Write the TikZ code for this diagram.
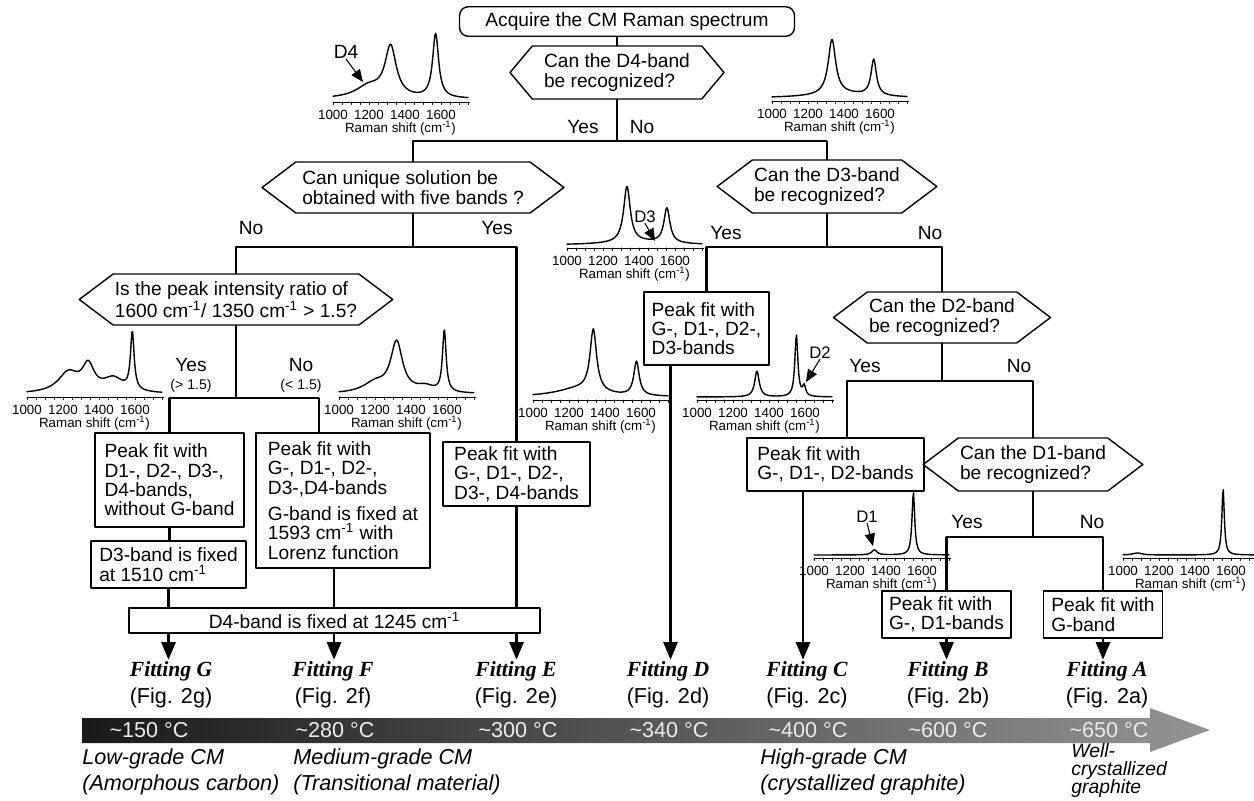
\documentclass[tikz,border=0pt]{standalone}
\usepackage{fontspec}
\setmainfont{Liberation Sans}
\newfontfamily\timesfont{Liberation Serif}
\usetikzlibrary{arrows,shapes.symbols,calc}

\pgfmathdeclarefunction{lor}{4}{\pgfmathparse{#2/(1+((#1-#3)/#4)^2)}}
\newcommand\mainsize{\fontsize{10.9}{11}\selectfont}
\newcommand\wellsize{\fontsize{11}{10.4}\selectfont\itshape}

\tikzset{
  query/.style={draw, line width=0.8pt, shape=signal, signal to=west and east, signal pointer angle=74, align=left, inner sep=1pt, font=\mainsize},
  fitbox/.style={draw, line width=0.8pt, rectangle, align=left, inner xsep=4pt, inner ysep=2pt, font=\mainsize},
  answer/.style={font=\mainsize, inner sep=1pt},
  ratio/.style={font=\fontsize{8}{9}\selectfont, inner sep=1pt},
  flow/.style={line width=1.3pt},
  pointer/.style={->, line width=0.6pt},
  bandlab/.style={font=\fontsize{9.5}{10}\selectfont, inner sep=0pt},
  specaxis/.style={line width=0.5pt},
  speccurve/.style={line width=0.8pt, line join=round},
  spectick/.style={font=\fontsize{7.6}{8}\selectfont, inner sep=0pt},
  result/.style={align=center, font=\fontsize{12.3}{15.5}\selectfont, inner sep=1pt},
  temp/.style={font=\fontsize{12.3}{14}\selectfont, text=white!92!black},
  grade/.style={align=left, font=\fontsize{12.3}{15.3}\selectfont\itshape, inner sep=0pt, anchor=north west}
}

\newcommand\ramanspec[2]{%
  \begin{scope}[shift={#1}, x=0.0036cm]
    \draw[specaxis] (0,0) -- (760,0);
    \foreach \tk in {0,50,...,750} \draw[specaxis] (\tk,0) -- (\tk,2.5);
    \foreach \tk in {1000,1200,1400,1600} \node[spectick] at (\tk-1000,13) {\tk};
    \node[spectick] at (375,26) {Raman shift (cm\textsuperscript{-1})};
    \draw[speccurve] plot[domain=1000:1750, samples=180] ({\x-1000}, {-3-(#2)});
  \end{scope}}

\begin{document}
\begin{tikzpicture}[line cap=round,line join=round,>=triangle 45,x=0.02cm,y=-0.02cm]
\useasboundingbox (0,0) rectangle (1254,801);

\node[draw, line width=0.8pt, rounded corners=5pt, minimum width=6.7cm, minimum height=0.54cm, font=\mainsize] (acq) at (627,21.5) {Acquire the CM Raman spectrum};
\node[query, signal pointer angle=100, minimum width=4.28cm, minimum height=1.06cm] (d4q) at (617,72.5) {Can the D4-band\\be recognized?};
\node[query, minimum width=6.04cm, minimum height=1.02cm] (uniq) at (413,187.5) {Can unique solution be\\obtained with five bands ?};
\node[query, minimum width=5.94cm, minimum height=1.02cm] (ratioq) at (236,299.5) {Is the peak intensity ratio of\\1600 cm\textsuperscript{-1}/ 1350 cm\textsuperscript{-1} > 1.5?};
\node[query, minimum width=4.28cm, minimum height=1.06cm] (d3q) at (827,186.5) {Can the D3-band\\be recognized?};
\node[query, minimum width=4.14cm, minimum height=1.02cm] (d2q) at (942,317.5) {Can the D2-band\\be recognized?};
\node[query, minimum width=4.1cm, minimum height=1.06cm] (d1q) at (1033,464.5) {Can the D1-band\\be recognized?};

\node[fitbox, minimum width=2.5cm, minimum height=1.46cm] (fitD) at (706.5,328.5) {Peak fit with\\G-, D1-, D2-,\\D3-bands};
\node[fitbox, minimum width=2.98cm, minimum height=1.88cm] (fitG) at (169.5,480) {Peak fit with\\D1-, D2-, D3-,\\D4-bands,\\without G-band};
\node[fitbox, minimum width=3.1cm, minimum height=0.94cm] (fix3) at (168.5,564.5) {D3-band is fixed\\at 1510 cm\textsuperscript{-1}};
\node[fitbox, minimum width=3.48cm, minimum height=2.7cm] (fitF) at (343,500.5) {Peak fit with\\G-, D1-, D2-,\\D3-,D4-bands\\[4pt]G-band is fixed at\\1593 cm\textsuperscript{-1} with\\Lorenz function};
\node[fitbox, minimum width=2.94cm, minimum height=1.28cm] (fitE) at (516.5,474) {Peak fit with\\G-, D1-, D2-,\\D3-, D4-bands};
\node[fitbox, minimum width=3.54cm, minimum height=1.06cm] (fitC) at (835.5,464.5) {Peak fit with\\G-, D1-, D2-bands};
\node[fitbox, minimum width=2.58cm, minimum height=0.94cm] (fitB) at (946.5,614.5) {Peak fit with\\G-, D1-bands};
\node[fitbox, minimum width=2.38cm, minimum height=0.94cm] (fitA) at (1103,614.5) {Peak fit with\\G-band};
\node[fitbox, align=center, minimum width=8.22cm, minimum height=0.5cm, inner ysep=0pt] (d4fix) at (334.5,620.5) {D4-band is fixed at 1245 cm\textsuperscript{-1}};

\coordinate (j1) at (617,141);
\coordinate (j2) at (413,247);
\coordinate (j3) at (236,398);
\coordinate (j4) at (827,247);
\coordinate (j5) at (942,381);
\coordinate (j6) at (1033,537);

\draw[flow] (acq.south -| d4q.north) -- (d4q.north);
\draw[flow] (d4q.south) -- (j1);
\draw[flow] (uniq.north) |- (j1) -| (d3q.north);
\draw[flow] (uniq.south) -- (j2);
\draw[flow] (ratioq.north) |- (j2) -| (fitE.north);
\draw[flow] (ratioq.south) -- (j3);
\draw[flow] (fitG.north) |- (j3) -| ($(fitF.north)+(-24,0)$);
\draw[flow] (fitG.south) -- (fitG.south |- fix3.north);
\draw[flow] (fix3.south) -- (fix3.south |- d4fix.north);
\draw[flow] ($(fitF.south)+(-9,0)$) coordinate (fFout) -- (fFout |- d4fix.north);
\draw[flow] (fitE.south) -- (fitE.south |- d4fix.north);
\draw[flow] (d3q.south) -- (j4);
\draw[flow] (fitD.north) |- (j4) -| (d2q.north);
\draw[flow] (d2q.south) -- (j5);
\draw[flow] ($(fitC.north)+(11.5,0)$) |- (j5) -| (d1q.north);
\draw[flow] (d1q.south) -- (j6);
\draw[flow] (fitB.north) |- (j6) -| (fitA.north);

\node[answer] (yes1) at (583,127) {Yes};
\node[answer] (no1) at (642,127) {No};
\node[answer] (no2) at (251,228) {No};
\node[answer] (yes2) at (497,228) {Yes};
\node[answer] (yes3) at (191,365) {Yes};
\node[ratio] (gt3) at (191,386) {(> 1.5)};
\node[answer] (no3) at (301,365) {No};
\node[ratio] (lt3) at (301,386) {(< 1.5)};
\node[answer] (yes4) at (726,233) {Yes};
\node[answer] (no4) at (930,233) {No};
\node[answer] (yes5) at (865,366) {Yes};
\node[answer] (no5) at (1019,366) {No};
\node[answer] (yes6) at (967,522) {Yes};
\node[answer] (no6) at (1092,522) {No};

\node[result] (resG) at (171,685) {{\timesfont\bfseries\itshape Fitting G}\\(Fig. 2g)};
\node[result] (resF) at (333,685) {{\timesfont\bfseries\itshape Fitting F}\\(Fig. 2f)};
\node[result] (resE) at (516,685) {{\timesfont\bfseries\itshape Fitting E}\\(Fig. 2e)};
\node[result] (resD) at (668,685) {{\timesfont\bfseries\itshape Fitting D}\\(Fig. 2d)};
\node[result] (resC) at (807,685) {{\timesfont\bfseries\itshape Fitting C}\\(Fig. 2c)};
\node[result] (resB) at (948,685) {{\timesfont\bfseries\itshape Fitting B}\\(Fig. 2b)};
\node[result] (resA) at (1107,685) {{\timesfont\bfseries\itshape Fitting A}\\(Fig. 2a)};

\draw[flow,->] (fix3.south |- d4fix.south) -- (fix3.south |- resG.north);
\draw[flow,->] (fFout |- d4fix.south) -- (fFout |- resF.north);
\draw[flow,->] (fitE.south |- d4fix.south) -- (fitE.south |- resE.north);
\draw[flow,->] ($(fitD.south)+(-36,0)$) coordinate (fDout) -- (fDout |- resD.north);
\draw[flow,->] ($(fitC.south)+(-32.5,0)$) coordinate (fCout) -- (fCout |- resC.north);
\draw[flow,->] (fitB.south) -- (fitB.south |- resB.north);
\draw[flow,->] (fitA.south) -- (fitA.south |- resA.north);

\shade[left color=black!90, right color=black!42] (82,718) -- (1150,718) -- (1150,708) -- (1210,730) -- (1150,752) -- (1150,743) -- (82,743) -- cycle;
\foreach \tx/\tv in {149/150, 335/280, 518/300, 669/340, 808/400, 948/600, 1109/650}
  \node[temp] (t\tv) at (\tx,730) {\textasciitilde\tv\ °C};

\node[grade] (lowgr) at (82,748) {Low-grade CM\\(Amorphous carbon)};
\node[grade] (medgr) at (293,748) {Medium-grade CM\\(Transitional material)};
\node[grade] (highgr) at (760,748) {High-grade CM\\(crystallized graphite)};
\node[grade, font=\wellsize] (wellgr) at (1071,743) {Well-\\crystallized\\graphite};

\ramanspec{(333,102)}{lor(\x,12,1200,90)+lor(\x,50,1320,38)+lor(\x,64,1570,20)}
\node[font=\mainsize, inner sep=0pt] (d4lab) at (346,52) {D4};
\coordinate (d4pt) at (363,82);
\draw[pointer] (d4lab.south) -- (d4pt);

\ramanspec{(772,101)}{lor(\x,4,1400,200)+lor(\x,55,1333,25)+lor(\x,36,1565,18)}

\ramanspec{(567,248)}{lor(\x,3,1400,200)+lor(\x,56,1333,22)+lor(\x,35,1555,20)}
\node[bandlab] (d3lab) at (645,217) {D3};
\coordinate (d3pt) at (655,241);
\draw[pointer] (d3lab.south) -- (d3pt);

\ramanspec{(27,397)}{lor(\x,20,1230,70)+lor(\x,25,1340,40)+lor(\x,14,1480,70)+lor(\x,58,1585,12)}
\ramanspec{(339,397)}{lor(\x,10,1200,80)+lor(\x,50,1320,40)+lor(\x,6,1480,60)+lor(\x,62,1585,12)}
\ramanspec{(533,400)}{lor(\x,8,1250,150)+lor(\x,62,1335,22)+lor(\x,34,1575,18)}

\ramanspec{(697,400)}{lor(\x,26,1333,15)+lor(\x,62,1552,10)+lor(\x,10,1595,10)}
\node[bandlab] (d2lab) at (820,353) {D2};
\coordinate (d2pt) at (806,382);
\draw[pointer] (d2lab.south) -- (d2pt);

\ramanspec{(814,558)}{lor(\x,5,1335,18)+lor(\x,63,1552,9)}
\node[bandlab] (d1lab) at (867,517) {D1};
\coordinate (d1pt) at (873,546);
\draw[pointer] (d1lab.south) -- (d1pt);

\ramanspec{(1123,558)}{lor(\x,2,1080,30)+lor(\x,67,1556,8)}
\end{tikzpicture}
\end{document}
